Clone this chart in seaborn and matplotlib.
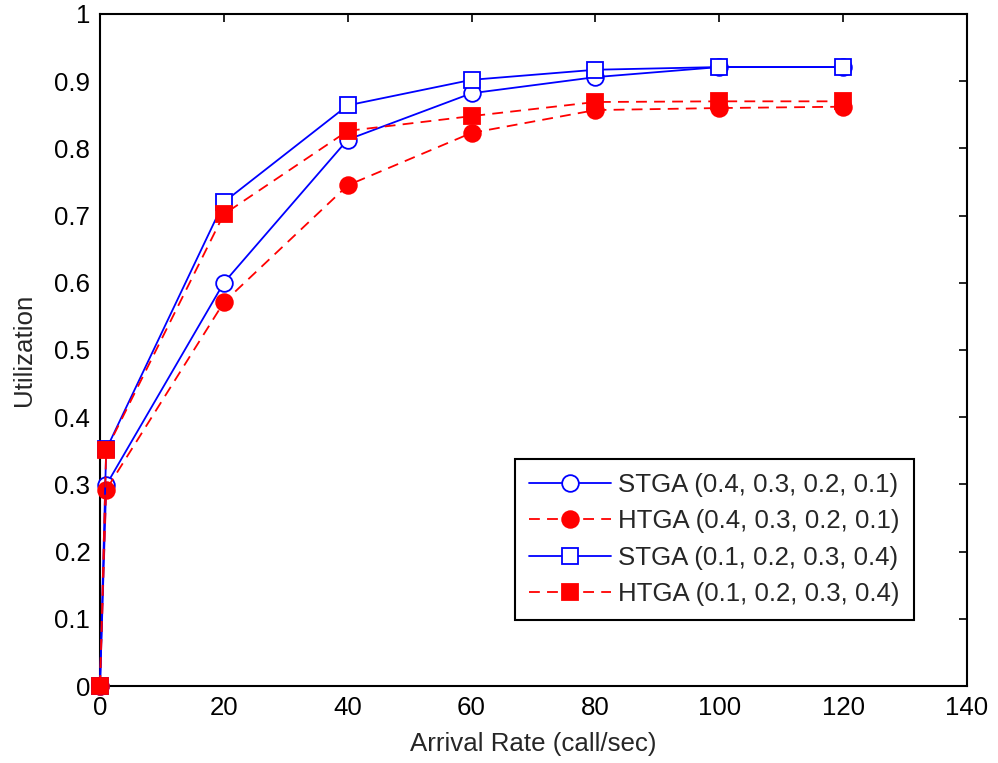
import matplotlib
matplotlib.use("Agg")
import matplotlib.pyplot as plt
import seaborn as sns
import pandas as pd

arrival_rate = [0, 1, 20, 40, 60, 80, 100, 120]
stga_a = [0, 0.299, 0.600, 0.813, 0.882, 0.906, 0.921, 0.921]
htga_a = [0, 0.292, 0.571, 0.745, 0.823, 0.857, 0.860, 0.862]
stga_b = [0, 0.352, 0.720, 0.864, 0.902, 0.917, 0.921, 0.921]
htga_b = [0, 0.351, 0.702, 0.826, 0.848, 0.869, 0.870, 0.870]
labels = ["STGA (0.4, 0.3, 0.2, 0.1)", "HTGA (0.4, 0.3, 0.2, 0.1)",
          "STGA (0.1, 0.2, 0.3, 0.4)", "HTGA (0.1, 0.2, 0.3, 0.4)"]
x_ticks = [0, 20, 40, 60, 80, 100, 120, 140]
y_ticks = [0, 0.1, 0.2, 0.3, 0.4, 0.5, 0.6, 0.7, 0.8, 0.9, 1]
y_tick_labels = ["0", "0.1", "0.2", "0.3", "0.4", "0.5", "0.6", "0.7", "0.8", "0.9", "1"]

sns.set_style("white")
plt.rcParams['font.family'] = ['Liberation Sans', 'DejaVu Sans']
FS = 18.6
plt.rcParams['font.size'] = FS

fig = plt.figure(figsize=(9.98, 7.63), dpi=100)
ax = fig.add_axes([0.1002, 0.1009, 0.8687, 0.8808])

styles = [
    dict(color="#0000ff", marker="o", mfc="white", mec="#0000ff", ls="-"),
    dict(color="#ff0000", marker="o", mfc="#ff0000", mec="#ff0000", ls="--"),
    dict(color="#0000ff", marker="s", mfc="white", mec="#0000ff", ls="-"),
    dict(color="#ff0000", marker="s", mfc="#ff0000", mec="#ff0000", ls="--"),
]
series = [stga_a, htga_a, stga_b, htga_b]
for vals, lab, st in zip(series, labels, styles):
    df = pd.DataFrame({"x": arrival_rate, "y": vals})
    sns.lineplot(data=df, x="x", y="y", ax=ax, color=st["color"], marker=st["marker"],
                 markersize=12, markerfacecolor=st["mfc"], markeredgecolor=st["mec"],
                 markeredgewidth=1.3, linewidth=1.3, linestyle=st["ls"],
                 label=lab, clip_on=False, zorder=3)
for line in ax.get_lines():
    if line.get_linestyle() == "--":
        line.set_dashes((6, 4))

ax.set_xlim(0, 140)
ax.set_ylim(0, 1)
ax.set_xticks(x_ticks)
ax.set_yticks(y_ticks)
ax.set_yticklabels(y_tick_labels)
ax.set_xlabel("Arrival Rate (call/sec)", fontsize=FS, labelpad=9)
ax.set_ylabel("Utilization", fontsize=FS, labelpad=13)
ax.tick_params(direction="in", length=6, width=1.2, top=True, right=True,
               labelsize=FS, pad=7, colors="black")
for sp in ax.spines.values():
    sp.set_visible(True)
    sp.set_color("black")
    sp.set_linewidth(1.5)

leg = ax.legend(loc="lower right", bbox_to_anchor=(0.939, 0.098), borderaxespad=0,
                fontsize=FS, handlelength=3.15, labelspacing=0.48, fancybox=False,
                framealpha=1, edgecolor="black", handletextpad=0.3, borderpad=0.55)
leg.get_frame().set_linewidth(1.5)
for h in leg.get_lines():
    if h.get_linestyle() == "--":
        h.set_dashes((6, 4))

fig.savefig("out.png", dpi=100)
